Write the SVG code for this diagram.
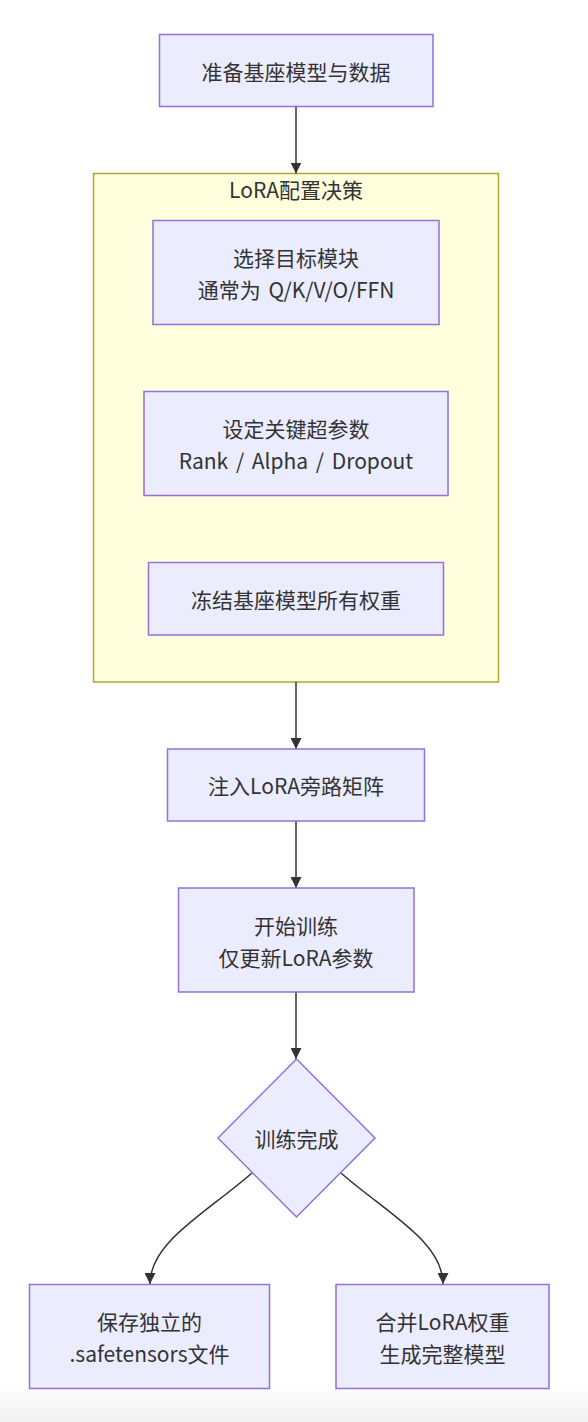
<svg xmlns="http://www.w3.org/2000/svg" width="588" height="1422" viewBox="0 0 588 1422">
<defs>
<linearGradient id="bg" x1="0" y1="0" x2="0" y2="1">
<stop offset="0" stop-color="#ffffff"/>
<stop offset="1" stop-color="#f1f1f1"/>
</linearGradient>
<marker id="arr" viewBox="0 0 10 10" refX="10" refY="5" markerWidth="11" markerHeight="11" markerUnits="userSpaceOnUse" orient="auto">
<path d="M0,0 L10,5 L0,10 z" fill="#333333"/>
</marker>
<style>
.node rect, .node polygon { fill: #ECECFF; stroke: #9370DB; stroke-width: 1.5; }
.cluster rect { fill: #ffffde; stroke: #aaaa33; stroke-width: 1.5; }
text { font-family: "Noto Sans CJK SC", "Noto Sans", sans-serif; font-size: 21px; fill: #333333; text-anchor: middle; dominant-baseline: central; }
.wide { word-spacing: 3px; }
.edges path { fill: none; stroke: #333333; stroke-width: 1.5; marker-end: url(#arr); }
</style>
</defs>
<rect x="0" y="0" width="588" height="1422" fill="#ffffff"/>
<rect x="0" y="1382" width="588" height="40" fill="url(#bg)"/>

<g id="cluster-lora" class="cluster">
<rect x="93.5" y="173.5" width="405" height="508.5"/>
<text x="296" y="189">LoRA配置决策</text>
</g>

<g class="edges" id="edges">
<path d="M296,107 L296,173.5"/>
<path d="M296,682 L296,749"/>
<path d="M296,821 L296,888"/>
<path d="M296,992 L296,1059"/>
<path d="M252,1173 C205,1214 150,1242 150,1284"/>
<path d="M341,1173 C388,1214 443,1242 443,1284"/>
</g>

<g id="n1" class="node">
<rect x="159.5" y="34.5" width="273.5" height="72"/>
<text x="296" y="70.5">准备基座模型与数据</text>
</g>
<g id="n2" class="node">
<rect x="153" y="220.5" width="286" height="104"/>
<text x="296" y="256.5">选择目标模块</text>
<text x="296" y="288.5" class="wide">通常为 Q/K/V/O/FFN</text>
</g>
<g id="n3" class="node">
<rect x="144" y="391.5" width="304" height="104"/>
<text x="296" y="427.5">设定关键超参数</text>
<text x="296" y="459.5" class="wide">Rank / Alpha / Dropout</text>
</g>
<g id="n4" class="node">
<rect x="148.5" y="562.5" width="295" height="72.5"/>
<text x="296" y="599">冻结基座模型所有权重</text>
</g>
<g id="n5" class="node">
<rect x="167.5" y="749" width="257" height="72"/>
<text x="296" y="785">注入LoRA旁路矩阵</text>
</g>
<g id="n6" class="node">
<rect x="178.5" y="888" width="235.5" height="104"/>
<text x="296" y="924.5">开始训练</text>
<text x="296" y="956.5">仅更新LoRA参数</text>
</g>
<g id="n7" class="node">
<polygon points="296.5,1059 375,1138 296.5,1217 218,1138"/>
<text x="296.5" y="1138">训练完成</text>
</g>
<g id="n8" class="node">
<rect x="29.5" y="1284.5" width="240" height="104"/>
<text x="149.5" y="1320.5">保存独立的</text>
<text x="149.5" y="1352.5">.safetensors文件</text>
</g>
<g id="n9" class="node">
<rect x="336" y="1284.5" width="213" height="104"/>
<text x="442.5" y="1320.5">合并LoRA权重</text>
<text x="442.5" y="1352.5">生成完整模型</text>
</g>
</svg>
